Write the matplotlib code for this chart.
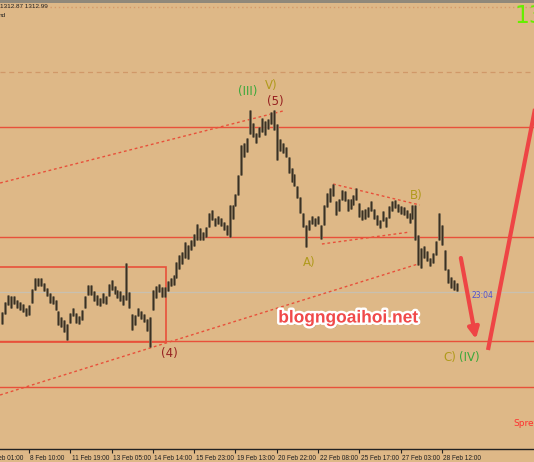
########## Gold H1 chart with Elliott wave marks (MT4 style screenshot)

import numpy as np
import matplotlib
matplotlib.use('Agg')
import matplotlib.pyplot as plt
import matplotlib.patheffects as pe
import matplotlib.transforms as mtransforms
from matplotlib.patches import Rectangle


########## data

# bar highs / lows, one per H1-ish bar, left to right
bar_high = [1308.8, 1310.8, 1312.2, 1312.0, 1312.0, 1311.2, 1310.8, 1310.4, 1309.6, 1310.2,
            1313.4, 1315.6, 1315.6, 1315.6, 1314.6, 1313.6, 1312.6, 1312.0, 1311.2, 1309.0,
            1307.8, 1307.2, 1306.4, 1308.6, 1309.6, 1308.6, 1308.0, 1309.2, 1312.0, 1314.2,
            1314.2, 1313.0, 1312.2, 1311.6, 1312.6, 1312.0, 1314.4, 1315.2, 1314.0, 1313.2,
            1313.0, 1312.2, 1318.6, 1312.8, 1308.4, 1308.2, 1309.6, 1309.0, 1308.4, 1307.4,
            1307.8, 1313.2, 1314.0, 1314.4, 1313.8, 1313.8, 1315.0, 1315.6, 1316.2, 1318.8,
            1320.2, 1320.8, 1322.8, 1322.2, 1323.2, 1324.4, 1326.4, 1325.6, 1324.8, 1325.8,
            1328.6, 1329.2, 1327.6, 1328.0, 1327.6, 1326.8, 1326.2, 1330.2, 1330.2, 1332.4,
            1336.2, 1342.2, 1342.6, 1343.6, 1349.2, 1346.6, 1344.6, 1345.8, 1347.6, 1347.0,
            1347.4, 1348.8, 1349.2, 1346.4, 1343.4, 1342.6, 1341.8, 1339.8, 1337.6, 1336.4,
            1334.0, 1331.8, 1328.6, 1326.2, 1327.2, 1328.0, 1327.6, 1328.0, 1326.2, 1330.2,
            1332.6, 1333.6, 1334.4, 1331.0, 1331.4, 1333.2, 1333.0, 1331.4, 1331.4, 1332.2,
            1333.6, 1330.6, 1329.2, 1329.4, 1329.8, 1331.0, 1329.4, 1328.2, 1327.2, 1329.0,
            1327.8, 1330.0, 1331.0, 1331.2, 1330.4, 1330.0, 1329.8, 1329.2, 1328.6, 1330.2,
            1330.2, 1324.2, 1321.6, 1322.0, 1321.0, 1319.6, 1320.6, 1323.0, 1328.6, 1326.2,
            1321.2, 1317.4, 1315.8, 1315.2, 1314.6]
bar_low = [1306.4, 1308.4, 1310.2, 1309.6, 1310.4, 1309.6, 1309.2, 1308.8, 1308.0, 1308.2,
           1310.6, 1313.2, 1314.0, 1314.0, 1313.0, 1312.0, 1310.6, 1310.4, 1309.2, 1306.2,
           1305.8, 1304.8, 1303.2, 1306.6, 1308.0, 1306.6, 1306.4, 1307.2, 1309.6, 1312.2,
           1312.2, 1311.0, 1310.2, 1310.0, 1310.6, 1310.4, 1312.0, 1313.2, 1312.4, 1311.6,
           1311.0, 1310.2, 1311.2, 1309.6, 1305.2, 1306.2, 1308.0, 1307.4, 1306.8, 1305.0,
           1301.8, 1309.2, 1311.6, 1312.8, 1311.8, 1311.8, 1313.0, 1314.0, 1314.2, 1315.6,
           1317.4, 1318.4, 1319.6, 1319.4, 1321.2, 1322.0, 1323.2, 1323.2, 1323.2, 1323.8,
           1325.8, 1327.2, 1326.0, 1326.4, 1326.0, 1325.2, 1324.2, 1323.8, 1327.4, 1330.0,
           1332.2, 1336.2, 1339.8, 1340.8, 1344.4, 1343.8, 1342.6, 1343.8, 1344.8, 1344.2,
           1345.4, 1346.4, 1345.2, 1339.2, 1341.0, 1340.6, 1339.8, 1336.6, 1334.8, 1334.0,
           1331.6, 1328.6, 1325.8, 1321.8, 1325.2, 1326.4, 1326.0, 1326.4, 1323.4, 1326.2,
           1329.8, 1330.8, 1332.0, 1328.2, 1329.0, 1331.2, 1331.0, 1329.0, 1329.4, 1330.2,
           1331.2, 1327.8, 1327.2, 1327.4, 1327.8, 1329.0, 1327.4, 1326.2, 1325.6, 1327.0,
           1325.8, 1327.6, 1329.0, 1329.6, 1328.8, 1328.4, 1328.2, 1327.6, 1326.6, 1327.4,
           1323.2, 1318.2, 1317.6, 1319.6, 1319.0, 1318.0, 1318.6, 1320.2, 1323.2, 1322.2,
           1317.2, 1314.6, 1313.6, 1313.2, 1313.0]

tick_bars = [10, 24, 38, 52, 66, 80, 94, 108, 122, 136, 150]
tick_labels = ['8 Feb 10:00', '11 Feb 19:00', '13 Feb 05:00', '14 Feb 14:00',
               '15 Feb 23:00', '19 Feb 13:00', '20 Feb 22:00', '22 Feb 08:00', '25 Feb 17:00',
               '27 Feb 03:00', '28 Feb 12:00']
first_tick_bar = -4           # off-screen tick, its label shows half cut
first_tick_label = '7 Feb 01:00'

# horizontal levels drawn on the chart
red_levels = [1345.8, 1323.8, 1303.0, 1293.8]
bid_level = 1312.8
dash_level = 1356.8
top_level = 1369.8

# dashed trend lines: (bar0, price0, bar1, price1)
trend_lines = [(0.2, 1292.2, 141.9, 1318.4),
               (0.2, 1334.6, 96.1, 1349.0),
               (113.1, 1334.4, 142.5, 1330.2),
               (109.3, 1322.4, 139.2, 1324.8)]

# wave labels: (text, bar, price, colour)
wave_labels = [('(III)', 84.2, 1352.8, '#3aa83a'),
               ('V)', 92.0, 1354.2, '#b09a1c'),
               ('(5)', 93.4, 1350.8, '#962020'),
               ('A)', 104.9, 1318.8, '#b09a1c'),
               ('B)', 141.2, 1332.0, '#b09a1c'),
               ('(4)', 57.5, 1300.6, '#962020'),
               ('C)', 152.7, 1299.8, '#b09a1c'),
               ('(IV)', 159.3, 1299.8, '#3aa83a')]


########## figure

bg = '#deb887'
red = '#e8503a'
tick_font = ['Liberation Sans', 'DejaVu Sans']

fig = plt.figure(figsize=(5.34, 4.62), dpi=100)
fig.patch.set_facecolor(bg)
ax = fig.add_axes([0, 13/462, 1, 446/462])
ax.set_facecolor(bg)

n = len(bar_high)
x = np.arange(1, n + 1)


##### levels / boxes
ax.axhline(top_level, color='#d49a6a', lw=1, ls=(0, (1, 2)))
ax.axhline(dash_level, color='#d09868', lw=0.9, ls=(0, (4, 3)))
for lv in red_levels:
    ax.axhline(lv, color=red, lw=1)
ax.axhline(bid_level, color='#c8c0b0', lw=0.9)

ax.add_patch(Rectangle((-5, 1302.8), 56.4 + 5, 1317.8 - 1302.8,
                       fill=False, ec=red, lw=1.2))

for x0, y0, x1, y1 in trend_lines:
    ax.plot([x0, x1], [y0, y1], color=red, lw=1, ls=(0, (2, 2)))


##### bars
ax.vlines(x, bar_low, bar_high, color='#7a6a52', lw=2.0)
ax.vlines(x, bar_low, bar_high, color='#3a3022', lw=0.8)


##### arrows
ax.annotate('', xy=(161.5, 1303.4), xytext=(156.4, 1319.6),
            arrowprops=dict(arrowstyle='-|>', color='#ee4545', lw=3, mutation_scale=16,
                            shrinkA=0, shrinkB=0))
ax.plot([165.6, 181.6], [1301.2, 1349.6], color='#ee4545', lw=3, solid_capstyle='butt')


##### texts
for t, xb, yp, c in wave_labels:
    ax.text(xb, yp, t, color=c, fontsize=8.5, ha='center', va='center')

ax.text(163.6, 1312.2, '23:04', color='#5050d0', fontsize=5.5, ha='center', va='center')
ax.text(174.1, 1286.4, 'Spread', color='#ff3030', fontsize=6.5, ha='left', va='center')
ax.text(174.7, 1368.0, '13', color='#66ee00', fontsize=17, ha='left', va='center')

ax.text(118.3, 1307.6, 'blogngoaihoi.net', color='#f04a4a', fontsize=12.5,
        family=['Liberation Sans', 'DejaVu Sans'], weight='bold', ha='center', va='center',
        path_effects=[pe.withSimplePatchShadow(offset=(1.5, -1.5), shadow_rgbFace='#8a7050', alpha=0.5),
                      pe.withStroke(linewidth=3.5, foreground='white')])

fig.text(0.0, 1 - 7/462, '1312.87 1312.99', fontsize=4.6, color='#202020', va='center',
         family=tick_font)
fig.text(-0.002, 1 - 15.5/462, 'nd', fontsize=4.6, color='#202020', va='center',
         family=tick_font)
fig.add_artist(Rectangle((0, 1 - 3/462), 1, 3/462, transform=fig.transFigure,
                         color='#8f887a', lw=0))


##### axes cosmetics
for s in ['left', 'right', 'top']:
    ax.spines[s].set_visible(False)
ax.spines['bottom'].set_color('#222222')
ax.spines['bottom'].set_linewidth(1)
ax.set_yticks([])
ax.set_xticks(tick_bars)
ax.set_xticklabels(tick_labels, ha='left', fontsize=4.7, color='#202020', family=tick_font)
ax.tick_params(axis='x', length=3, width=0.8, color='#222222', pad=1)
shift = mtransforms.ScaledTranslation(1.5/100, 0, fig.dpi_scale_trans)
for lab in ax.get_xticklabels():
    lab.set_transform(lab.get_transform() + shift)

ax.annotate(first_tick_label, xy=(first_tick_bar, 0), xycoords=('data', 'axes fraction'),
            xytext=(1.1, -4), textcoords='offset points', ha='left', va='top',
            fontsize=4.7, color='#202020', family=tick_font, annotation_clip=False)

# limits last, so nothing widens the view
ax.set_xlim(0.17, 181.2)
ax.set_ylim(1281.4, 1370.6)

plt.savefig('out.png', dpi=100, facecolor=bg)
